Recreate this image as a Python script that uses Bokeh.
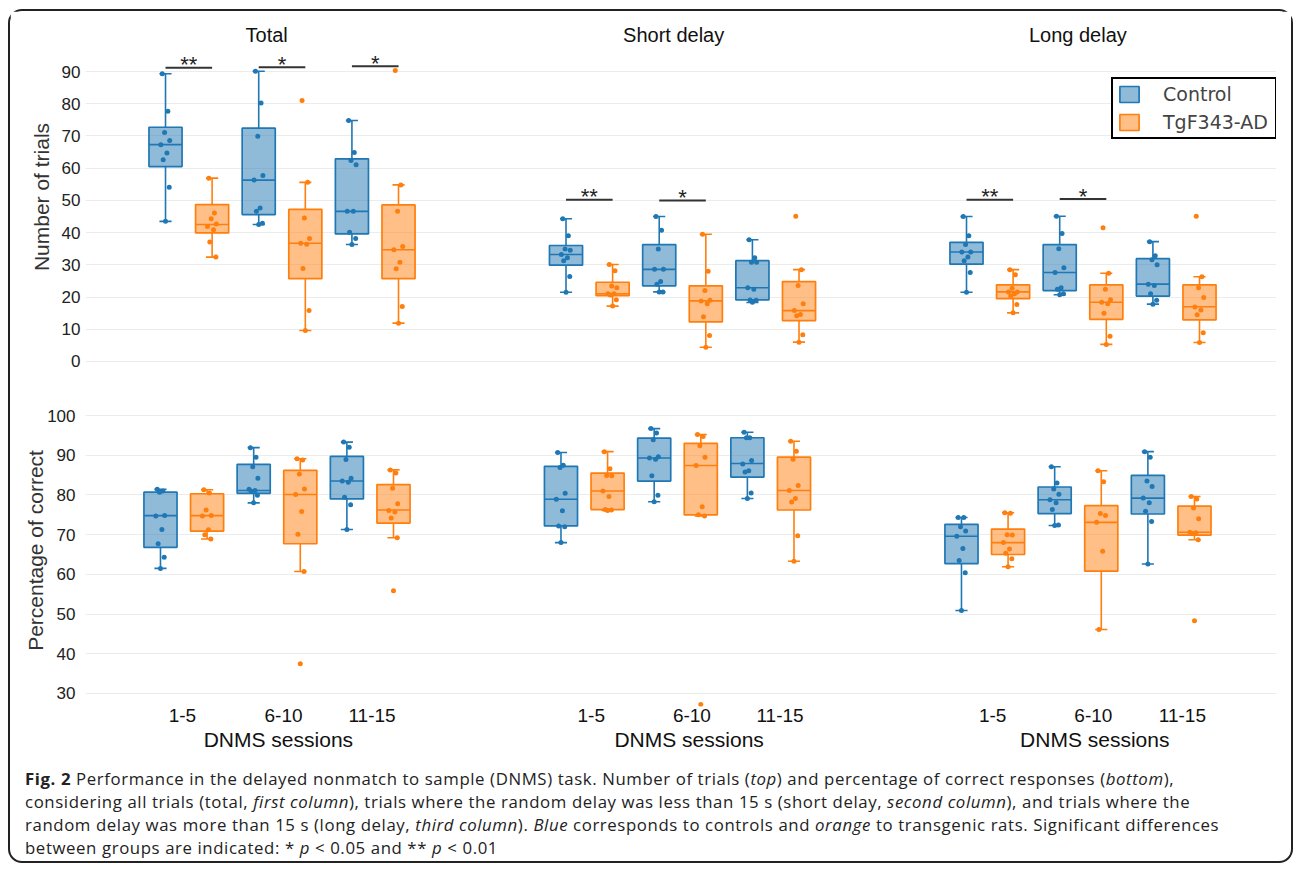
from bokeh.plotting import figure
from bokeh.models import (Range1d, LinearAxis, FixedTicker, Legend, LegendItem, Div,
                          ColumnDataSource, CustomJSTickFormatter)
from bokeh.layouts import column
from bokeh.embed import file_html
from bokeh.resources import INLINE
from bokeh.core.properties import value

# ---------------------------------------------------------------- data
SESSIONS = ["1-5", "6-10", "11-15"]
COLUMNS = ["Total", "Short delay", "Long delay"]
GROUPS = ["Control", "TgF343-AD"]
XLABEL = "DNMS sessions"
Y1_LABEL = "Number of trials"
Y2_LABEL = "Percentage of correct"
Y1_TICKS = [0, 10, 20, 30, 40, 50, 60, 70, 80, 90]
Y2_TICKS = [30, 40, 50, 60, 70, 80, 90, 100]

# box statistics per session: (lower whisker, Q1, median, Q3, upper whisker)
TRIALS_TOTAL_CTRL_BOX = [(43.5, 60.5, 67.3, 72.7, 89.3), (42.5, 45.6, 56.3, 72.4, 90.1), (36.3, 39.6, 46.6, 62.9, 74.8)]
TRIALS_TOTAL_TG_BOX = [(32.4, 39.9, 42.5, 48.7, 56.9), (9.6, 25.7, 36.7, 47.2, 55.6), (11.9, 25.7, 34.7, 48.6, 54.8)]
TRIALS_TOTAL_CTRL_PTS = [[89.3, 77.7, 71.1, 68.6, 67.3, 64.7, 62.6, 54.1, 43.5],
                         [90.1, 80.2, 69.9, 57.7, 56.3, 47.6, 46.6, 42.9, 42.5],
                         [74.8, 64.9, 62.4, 61.1, 46.6, 46.6, 40.1, 38.2, 36.3]]
TRIALS_TOTAL_TG_PTS = [[56.9, 46.1, 44.3, 42.7, 41.9, 40.9, 37.1, 32.4],
                       [81.0, 55.6, 44.5, 38.2, 36.7, 36.4, 28.9, 15.8, 9.6],
                       [90.3, 54.8, 46.6, 35.7, 34.7, 30.8, 28.8, 17.1, 11.9]]

TRIALS_SHORT_CTRL_BOX = [(21.5, 29.9, 33.2, 36.0, 44.3), (21.6, 23.5, 28.6, 36.3, 45.0), (18.3, 19.1, 22.9, 31.3, 37.8)]
TRIALS_SHORT_TG_BOX = [(17.2, 20.4, 21.0, 24.6, 30.1), (4.4, 12.3, 18.8, 23.5, 39.5), (6.0, 12.7, 15.8, 24.8, 28.5)]
TRIALS_SHORT_CTRL_PTS = [[44.3, 39.0, 34.9, 34.5, 33.2, 32.2, 31.3, 26.4, 21.5],
                         [45.0, 40.7, 34.9, 28.6, 28.6, 24.8, 24.0, 21.6, 21.6],
                         [37.8, 32.2, 30.8, 30.8, 22.9, 22.4, 19.1, 19.0, 18.4]]
TRIALS_SHORT_TG_PTS = [[30.1, 28.2, 23.4, 22.9, 21.0, 21.0, 20.6, 19.2, 17.2],
                       [39.5, 28.0, 22.0, 19.0, 18.8, 17.9, 13.9, 8.1, 4.4],
                       [45.1, 28.5, 23.6, 17.9, 15.8, 14.6, 14.2, 8.3, 6.0]]

TRIALS_LONG_CTRL_BOX = [(21.5, 30.2, 34.0, 37.0, 45.0), (20.7, 22.0, 27.6, 36.3, 45.1), (17.8, 20.3, 24.0, 31.9, 37.2)]
TRIALS_LONG_TG_BOX = [(15.1, 19.5, 21.6, 23.8, 28.5), (5.3, 13.1, 18.4, 23.8, 27.4), (5.9, 12.9, 17.0, 23.8, 26.3)]
TRIALS_LONG_CTRL_PTS = [[45.0, 39.0, 36.3, 34.0, 34.0, 32.4, 31.3, 27.6, 21.5],
                        [45.1, 39.7, 35.0, 29.1, 27.6, 22.9, 22.4, 21.0, 20.7],
                        [37.2, 32.8, 31.6, 30.0, 24.0, 23.6, 21.0, 19.0, 17.8]]
TRIALS_LONG_TG_PTS = [[28.5, 26.9, 22.7, 21.6, 21.6, 21.0, 20.3, 17.7, 15.1],
                      [41.5, 27.4, 22.4, 19.2, 18.4, 17.9, 15.0, 7.8, 5.3],
                      [45.1, 26.3, 22.9, 19.9, 16.9, 16.0, 14.5, 8.9, 5.9]]

CORRECT_TOTAL_CTRL_BOX = [(61.5, 66.8, 74.8, 80.7, 81.4), (78.0, 80.4, 81.1, 87.7, 91.9), (71.3, 79.0, 83.5, 89.7, 93.3)]
CORRECT_TOTAL_TG_BOX = [(68.9, 70.9, 74.8, 80.3, 81.3), (60.7, 67.7, 80.1, 86.2, 89.1), (69.2, 72.9, 76.2, 82.6, 86.3)]
CORRECT_TOTAL_CTRL_PTS = [[81.4, 81.0, 80.7, 74.8, 74.7, 71.3, 67.7, 64.3, 61.5],
                          [91.9, 89.5, 87.1, 84.2, 81.4, 81.1, 80.9, 79.9, 78.0],
                          [93.3, 92.0, 88.9, 84.2, 83.5, 83.2, 79.4, 77.5, 71.3]]
CORRECT_TOTAL_TG_PTS = [[81.3, 80.5, 76.2, 74.8, 74.7, 71.2, 70.0, 68.9],
                        [89.1, 88.8, 85.3, 81.5, 80.1, 75.8, 70.1, 60.7, 37.5],
                        [86.3, 85.5, 81.7, 77.8, 76.1, 75.7, 74.2, 69.2, 55.9]]

CORRECT_SHORT_CTRL_BOX = [(68.0, 72.2, 78.9, 87.2, 90.7), (78.3, 83.5, 89.3, 94.3, 96.7), (79.1, 84.5, 87.9, 94.4, 95.8)]
CORRECT_SHORT_TG_BOX = [(76.1, 76.3, 81.0, 85.5, 90.9), (74.7, 75.0, 87.4, 93.0, 95.2), (63.3, 76.2, 81.1, 89.5, 93.5)]
CORRECT_SHORT_CTRL_PTS = [[90.7, 87.5, 86.9, 80.4, 78.9, 76.0, 72.2, 72.0, 68.0],
                          [96.7, 95.6, 93.9, 89.6, 89.3, 89.0, 84.8, 79.9, 78.3],
                          [95.8, 94.4, 94.4, 88.7, 87.8, 86.1, 85.8, 80.5, 79.1]]
CORRECT_SHORT_TG_PTS = [[90.9, 86.6, 84.9, 84.8, 81.0, 79.6, 76.3, 76.2, 76.1],
                        [95.2, 94.7, 92.4, 89.5, 87.4, 77.0, 75.0, 74.7, 27.2],
                        [93.5, 91.0, 89.0, 82.4, 81.1, 79.1, 78.2, 69.7, 63.3]]

CORRECT_LONG_CTRL_BOX = [(50.9, 62.7, 69.6, 72.6, 74.3), (72.3, 75.3, 78.8, 82.0, 87.1), (62.6, 75.2, 79.2, 84.9, 90.9)]
CORRECT_LONG_TG_BOX = [(61.9, 65.0, 68.0, 71.4, 75.5), (46.1, 60.8, 73.1, 77.3, 86.1), (68.7, 69.9, 70.6, 77.2, 79.6)]
CORRECT_LONG_CTRL_PTS = [[74.3, 74.3, 72.0, 70.9, 69.6, 66.5, 63.5, 60.4, 50.9],
                         [87.1, 83.0, 81.5, 80.2, 78.8, 78.0, 76.3, 72.4, 72.3],
                         [90.9, 89.5, 83.5, 82.1, 79.2, 78.0, 75.9, 73.3, 62.6]]
CORRECT_LONG_TG_PTS = [[75.5, 75.4, 70.0, 69.9, 68.0, 66.4, 65.3, 63.9, 61.9],
                       [86.1, 83.3, 75.3, 74.8, 73.1, 65.8, 46.1],
                       [79.6, 79.0, 76.7, 74.0, 70.6, 70.5, 70.3, 68.7, 48.3]]

# significance marks (top row): column index, session index, bar height, marker
SIG_COLUMN = [0, 0, 0, 1, 1, 2, 2]
SIG_SESSION = [0, 1, 2, 0, 1, 0, 1]
SIG_Y = [91.2, 91.3, 91.6, 50.2, 50.0, 50.2, 50.4]
SIG_MARK = ["**", "*", "*", "**", "*", "**", "*"]

CAPTION_LINES = [
    "<b>Fig. 2</b> Performance in the delayed nonmatch to sample (DNMS) task. Number of trials (<i>top</i>) and percentage of correct responses (<i>bottom</i>),",
    "considering all trials (total, <i>first column</i>), trials where the random delay was less than 15 s (short delay, <i>second column</i>), and trials where the",
    "random delay was more than 15 s (long delay, <i>third column</i>). <i>Blue</i> corresponds to controls and <i>orange</i> to transgenic rats. Significant differences",
    "between groups are indicated: * <i>p</i>&nbsp;&lt;&nbsp;0.05 and ** <i>p</i>&nbsp;&lt;&nbsp;0.01",
]

# ---------------------------------------------------------------- style / layout
BLUE = "#1f77b4"
ORANGE = "#ff7f0e"
COLORS = [BLUE, ORANGE]
COL_STEP = 8.594          # distance between the three column groups (box slots)
BOX_W = 0.71
CAP_W = 0.26
JITTER = [-0.07, 0.05, -0.02, 0.09, -0.10, 0.03, -0.05, 0.08, 0.00, -0.08]
TITLE_SHIFT = [-0.33, -0.19, -0.11]
TICK_SHIFT = [[-0.03, 0.14, 0.04], [0.15, 0.31, 0.20], [0.17, 0.33, 0.24]]
XLABEL_SHIFT = [0.03, 0.25, 0.36]
FONT = "Liberation Sans"
GRID = "#ececec"

W = 1281


def style_yaxis(ax, label, ticks, label_standoff, tick_standoff):
    ax.ticker = FixedTicker(ticks=ticks)
    ax.axis_label = label
    ax.axis_label_text_font = FONT
    ax.axis_label_text_font_size = "21px"
    ax.axis_label_text_font_style = "normal"
    ax.axis_label_text_color = "#333333"
    ax.axis_label_standoff = label_standoff
    ax.major_label_text_font = FONT
    ax.major_label_text_font_size = "17px"
    ax.major_label_text_color = "#222222"
    ax.major_label_standoff = tick_standoff
    ax.axis_line_color = None
    ax.major_tick_line_color = None
    ax.minor_tick_line_color = None
    ax.major_tick_out = 0
    ax.major_tick_in = 0


def draw_group(p, box_stats, points, col, grp):
    color = COLORS[grp]
    xs = [col * COL_STEP + s * 2 + grp for s in range(len(SESSIONS))]
    src = ColumnDataSource(dict(
        x=xs,
        lo=[b[0] for b in box_stats], q1=[b[1] for b in box_stats],
        med=[b[2] for b in box_stats], q3=[b[3] for b in box_stats],
        hi=[b[4] for b in box_stats],
        xl=[x - BOX_W / 2 for x in xs], xr=[x + BOX_W / 2 for x in xs],
        cl=[x - CAP_W / 2 for x in xs], cr=[x + CAP_W / 2 for x in xs],
    ))
    box = p.vbar(x="x", width=BOX_W, bottom="q1", top="q3", source=src,
                 fill_color=color, fill_alpha=0.5, line_color=color, line_width=1.7)
    kw = dict(source=src, line_color=color, line_width=1.6)
    p.segment(x0="xl", x1="xr", y0="med", y1="med", **kw)
    p.segment(x0="x", x1="x", y0="q3", y1="hi", **kw)
    p.segment(x0="x", x1="x", y0="q1", y1="lo", **kw)
    p.segment(x0="cl", x1="cr", y0="hi", y1="hi", **kw)
    p.segment(x0="cl", x1="cr", y0="lo", y1="lo", **kw)
    px, py = [], []
    for s, pts in enumerate(points):
        for i, v in enumerate(pts):
            px.append(xs[s] + JITTER[i % len(JITTER)])
            py.append(v)
    p.scatter(px, py, size=5, fill_color=color, line_color=None)
    return box


TOP_ROW = [
    (TRIALS_TOTAL_CTRL_BOX, TRIALS_TOTAL_CTRL_PTS, TRIALS_TOTAL_TG_BOX, TRIALS_TOTAL_TG_PTS),
    (TRIALS_SHORT_CTRL_BOX, TRIALS_SHORT_CTRL_PTS, TRIALS_SHORT_TG_BOX, TRIALS_SHORT_TG_PTS),
    (TRIALS_LONG_CTRL_BOX, TRIALS_LONG_CTRL_PTS, TRIALS_LONG_TG_BOX, TRIALS_LONG_TG_PTS),
]
BOTTOM_ROW = [
    (CORRECT_TOTAL_CTRL_BOX, CORRECT_TOTAL_CTRL_PTS, CORRECT_TOTAL_TG_BOX, CORRECT_TOTAL_TG_PTS),
    (CORRECT_SHORT_CTRL_BOX, CORRECT_SHORT_CTRL_PTS, CORRECT_SHORT_TG_BOX, CORRECT_SHORT_TG_PTS),
    (CORRECT_LONG_CTRL_BOX, CORRECT_LONG_CTRL_PTS, CORRECT_LONG_TG_BOX, CORRECT_LONG_TG_PTS),
]

# ---------------------------------------------------------------- top row
p1 = figure(width=W, height=377, x_range=Range1d(-1.717, 23.84), y_range=Range1d(-4.345, 106.45),
            x_axis_location=None, toolbar_location=None, output_backend="svg",
            min_border_left=75, min_border_right=15, min_border_top=7, min_border_bottom=13,
            outline_line_color=None, background_fill_color="white", border_fill_color="white")
style_yaxis(p1.yaxis[0], Y1_LABEL, Y1_TICKS, 6, 5)
p1.xgrid.grid_line_color = None
p1.ygrid.grid_line_color = GRID
p1.ygrid.ticker = FixedTicker(ticks=Y1_TICKS)

legend_boxes = []
for c, (cb, cp, tb, tp) in enumerate(TOP_ROW):
    rb = draw_group(p1, cb, cp, c, 0)
    ro = draw_group(p1, tb, tp, c, 1)
    if not legend_boxes:
        legend_boxes = [rb, ro]

sig_src = ColumnDataSource(dict(
    x0=[c * COL_STEP + s * 2 for c, s in zip(SIG_COLUMN, SIG_SESSION)],
    x1=[c * COL_STEP + s * 2 + 1 for c, s in zip(SIG_COLUMN, SIG_SESSION)],
    xm=[c * COL_STEP + s * 2 + 0.5 for c, s in zip(SIG_COLUMN, SIG_SESSION)],
    y=SIG_Y, mark=SIG_MARK))
p1.segment(x0="x0", x1="x1", y0="y", y1="y", source=sig_src, line_color="#333333", line_width=2)
p1.text(x="xm", y="y", text="mark", source=sig_src, text_align="center", text_baseline="alphabetic",
        y_offset=-3, text_font=value(FONT), text_font_size="22px", text_color="#222222")

title_src = ColumnDataSource(dict(
    x=[c * COL_STEP + 2.5 + TITLE_SHIFT[c] for c in range(len(COLUMNS))],
    y=[98.7] * len(COLUMNS), t=COLUMNS))
p1.text(x="x", y="y", text="t", source=title_src, text_align="center", text_baseline="alphabetic",
        y_offset=-8, text_font=value(FONT), text_font_size="20px", text_color="#111111")

legend = Legend(items=[LegendItem(label=GROUPS[i], renderers=[legend_boxes[i]]) for i in range(2)],
                location=(1026, 236), margin=0, padding=4, spacing=6,
                glyph_width=24, glyph_height=20, label_standoff=22, label_width=108,
                label_text_font="DejaVu Sans", label_text_font_size="19px", label_text_color="#444444",
                border_line_color="black", border_line_width=2, border_line_alpha=1,
                background_fill_color="white", background_fill_alpha=1)
p1.add_layout(legend)

# ---------------------------------------------------------------- bottom row
p2 = figure(width=W, height=376, x_range=Range1d(-1.609, 23.948), y_range=Range1d(26.72, 105.29),
            x_axis_location=None, toolbar_location=None, output_backend="svg",
            min_border_left=75, min_border_right=15, min_border_top=6, min_border_bottom=58,
            outline_line_color=None, background_fill_color="white", border_fill_color="white")
style_yaxis(p2.yaxis[0], Y2_LABEL, Y2_TICKS, -3, 10)
p2.xgrid.grid_line_color = None
p2.ygrid.grid_line_color = GRID
p2.ygrid.ticker = FixedTicker(ticks=Y2_TICKS)

for c, (cb, cp, tb, tp) in enumerate(BOTTOM_ROW):
    draw_group(p2, cb, cp, c, 0)
    draw_group(p2, tb, tp, c, 1)

sess_ticks, sess_labels = [], []
for c in range(len(COLUMNS)):
    for s, lab in enumerate(SESSIONS):
        sess_ticks.append(c * COL_STEP + s * 2 + 0.5 + TICK_SHIFT[c][s])
        sess_labels.append(lab)
name_ticks = [c * COL_STEP + 2.5 + XLABEL_SHIFT[c] for c in range(len(COLUMNS))]
name_labels = [XLABEL] * len(COLUMNS)

JS = """
let k = 0, best = 1e9;
for (let i = 0; i < pos.length; i++) { const d = Math.abs(pos[i] - tick); if (d < best) { best = d; k = i; } }
return labs[k];
"""


def label_axis(ticks, labels, size, standoff):
    ax = LinearAxis(ticker=FixedTicker(ticks=ticks),
                    formatter=CustomJSTickFormatter(args=dict(pos=ticks, labs=labels), code=JS))
    ax.major_label_text_font = FONT
    ax.major_label_text_font_size = size
    ax.major_label_text_color = "#111111"
    ax.major_label_standoff = standoff
    ax.axis_line_color = None
    ax.major_tick_line_color = None
    ax.minor_tick_line_color = None
    ax.major_tick_out = 0
    ax.major_tick_in = 0
    return ax


p2.add_layout(label_axis(sess_ticks, sess_labels, "19px", 2), "below")
p2.add_layout(label_axis(name_ticks, name_labels, "21px", 3), "below")

# ---------------------------------------------------------------- caption
line_divs = "".join('<div style="height:23px; line-height:23px;">%s</div>' % ln for ln in CAPTION_LINES)
cap_html = ('<div style="font-family:\'Open Sans\'; font-size:16.8px; letter-spacing:0.6px; color:#222;'
            ' white-space:nowrap; padding-left:15px; padding-top:3px;">' + line_divs + "</div>")
cap = Div(text=cap_html, width=W, height=97, margin=0)

layout = column(p1, p2, cap, styles={"border": "2px solid #222222", "border-radius": "14px",
                                     "background-color": "white",
                                     "margin-left": "8px", "margin-top": "9px"})

open("out.html", "w").write(file_html(layout, INLINE))
